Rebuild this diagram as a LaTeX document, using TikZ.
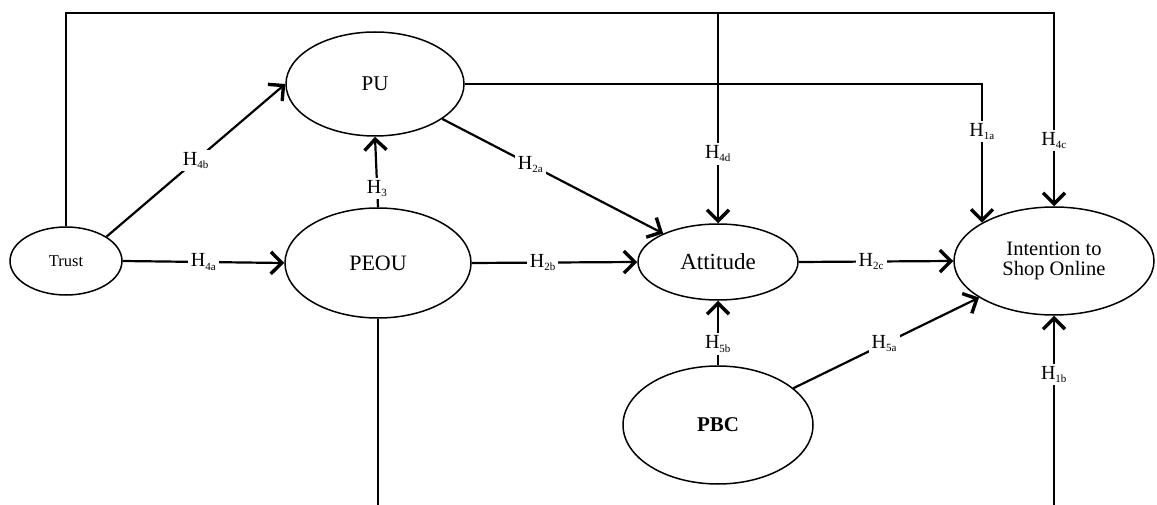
\documentclass[tikz,border=0pt]{standalone}
\usepackage{fontspec}
\setmainfont{Liberation Serif}
\usetikzlibrary{arrows.meta,shapes.geometric}

\tikzset{
  construct/.style={ellipse, draw, line width=1.5pt, inner sep=0pt, align=center},
  link/.style={line width=2.2pt},
  arr/.style={link, -{Straight Barb[length=11pt,width=22pt,line width=3.4pt]}},
  hyp/.style={fill=white, inner sep=2.5pt, font=\fontsize{20}{20}\selectfont},
}
\newcommand{\hlabel}[2]{H\textsubscript{\fontsize{11}{11}\selectfont #1#2}}

\begin{document}
\begin{tikzpicture}[x=1pt, y=-1pt]
  \useasboundingbox (0,0) rectangle (1157,505);

  % constructs
  \node[construct, minimum width=112pt, minimum height=68pt, font=\fontsize{16.5}{16.5}\selectfont] (Trust) at (66,261) {Trust};
  \node[construct, minimum width=178pt, minimum height=104pt, font=\fontsize{21}{21}\selectfont] (PU) at (375,84) {PU};
  \node[construct, minimum width=186pt, minimum height=110pt, font=\fontsize{22}{22}\selectfont] (PEOU) at (378,263) {PEOU};
  \node[construct, minimum width=160pt, minimum height=76pt, font=\fontsize{23}{23}\selectfont] (Att) at (718,262) {Attitude};
  \node[construct, minimum width=200pt, minimum height=108pt, font=\fontsize{20.5}{20}\selectfont] (Int) at (1054,261) {Intention to\\Shop Online};
  \node[construct, minimum width=190pt, minimum height=118pt, font=\bfseries\fontsize{21}{21}\selectfont] (PBC) at (718,425) {PBC};

  % free ends of the connectors
  \coordinate (top) at (718,13);
  \coordinate (peouEnd) at (378,505);
  \coordinate (h1bStart) at (1054,505);

  % paths
  \draw[link] (Trust.north) |- (top);
  \draw[arr] (top) -| node[hyp, pos=0.83] {\hlabel{4}{c}} (Int.north);
  \draw[arr] (top) -- node[hyp, pos=0.67] {\hlabel{4}{d}} (Att.north);
  \draw[arr] (Trust.31) -- node[hyp] {\hlabel{4}{b}} (PU.west);
  \draw[arr] (Trust.east) -- node[hyp] {\hlabel{4}{a}} (PEOU.west);
  \draw[arr] (PEOU.north) -- node[hyp, pos=0.27] {\hlabel{3}{}} (PU.south);
  \draw[arr] (PU) -- node[hyp, pos=0.4] {\hlabel{2}{a}} (Att);
  \draw[arr] (PEOU.east) -- node[hyp, pos=0.43] {\hlabel{2}{b}} (Att.west);
  \draw[arr] (Att.east) -- node[hyp, pos=0.47] {\hlabel{2}{c}} (Int.west);
  \draw[arr] (PU.east) -| node[hyp, pos=0.67] {\hlabel{1}{a}} (Int.152);
  \draw[arr] (PBC.north) -- node[hyp, pos=0.33] {\hlabel{5}{b}} (Att.south);
  \draw[arr] (PBC) -- node[hyp, pos=0.49] {\hlabel{5}{a}} (Int);
  \draw[arr] (h1bStart) -- node[hyp, pos=0.69] {\hlabel{1}{b}} (Int.south);
  \draw[link] (PEOU.south) -- (peouEnd);
\end{tikzpicture}
\end{document}
